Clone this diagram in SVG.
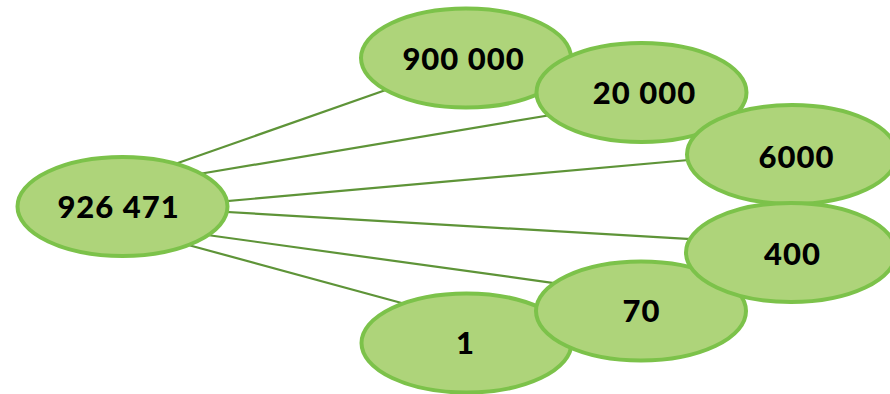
<svg xmlns="http://www.w3.org/2000/svg" width="890" height="394" viewBox="0 0 890 394">
<style>
.n{fill:#AED47A;stroke:#7CC24A;stroke-width:4}
.t{font-family:Lato,"Noto Sans",sans-serif;font-weight:900;font-size:31px;letter-spacing:1px;fill:#000;text-anchor:middle}
.e{stroke:#5E9438;stroke-width:2.2;fill:none}
</style>
<rect width="890" height="394" fill="#fff"/>
<g id="connectors">
<line class="e" x1="160" y1="169.3" x2="400" y2="85"/>
<line class="e" x1="190" y1="175.5" x2="560" y2="113.5"/>
<line class="e" x1="210" y1="202.6" x2="700" y2="159"/>
<line class="e" x1="210" y1="211" x2="700" y2="239.7"/>
<line class="e" x1="200" y1="234" x2="570" y2="285.3"/>
<line class="e" x1="180" y1="242.7" x2="420" y2="308"/>
</g>
<g id="n926471"><ellipse class="n" cx="122.5" cy="206.5" rx="105" ry="49.5"/><text class="t" x="118.5" y="218">926 471</text></g>
<g id="n1"><ellipse class="n" cx="466.5" cy="343" rx="105" ry="49.5"/><text class="t" x="465.5" y="354">1</text></g>
<g id="n70"><ellipse class="n" cx="641" cy="311" rx="105" ry="49.5"/><text class="t" x="641.5" y="322">70</text></g>
<g id="n900000"><ellipse class="n" cx="466" cy="58" rx="105" ry="49.5"/><text class="t" x="463.5" y="70">900 000</text></g>
<g id="n20000"><ellipse class="n" cx="641.5" cy="92.5" rx="105" ry="49.5"/><text class="t" x="644.5" y="104">20 000</text></g>
<g id="n6000"><ellipse class="n" cx="792" cy="154.5" rx="105" ry="49.5"/><text class="t" x="796.5" y="168">6000</text></g>
<g id="n400"><ellipse class="n" cx="791" cy="252.5" rx="105" ry="49.5"/><text class="t" x="792.5" y="265">400</text></g>
</svg>
